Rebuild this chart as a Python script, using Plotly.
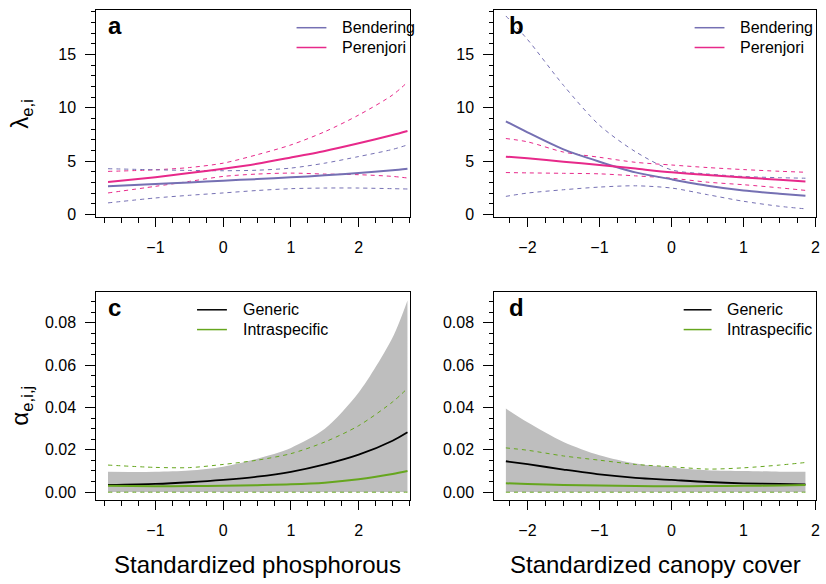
import plotly.graph_objects as go

# ---------------- data ----------------
# Panel a: lambda vs standardized phosphorous
xa = [-1.7, -1.0, -0.5, 0.0, 0.5, 1.0, 1.5, 2.0, 2.5, 2.72]
a_per_mean = [3.04, 3.50, 3.88, 4.29, 4.75, 5.34, 5.96, 6.68, 7.45, 7.83]
a_per_up = [4.04, 4.19, 4.40, 4.81, 5.60, 6.52, 7.76, 9.32, 11.2, 12.4]
a_per_lo = [2.02, 2.64, 3.10, 3.57, 3.79, 3.88, 3.79, 3.73, 3.57, 3.42]
a_ben_mean = [2.64, 2.86, 3.00, 3.17, 3.32, 3.48, 3.67, 3.88, 4.15, 4.29]
a_ben_up = [4.29, 4.19, 4.13, 4.10, 4.15, 4.35, 4.81, 5.43, 6.10, 6.52]
a_ben_lo = [1.09, 1.55, 1.80, 2.02, 2.25, 2.42, 2.48, 2.48, 2.42, 2.39]

# Panel b: lambda vs standardized canopy cover
xb = [-2.3, -2.0, -1.5, -1.0, -0.5, 0.0, 0.5, 1.0, 1.5, 1.86]
b_ben_mean = [8.73, 7.70, 6.10, 4.95, 3.95, 3.30, 2.70, 2.25, 1.95, 1.76]
b_ben_up = [18.6, 16.4, 12.1, 8.36, 5.88, 4.18, 3.80, 3.56, 3.45, 3.40]
b_ben_lo = [1.70, 2.01, 2.32, 2.57, 2.69, 2.48, 1.86, 1.24, 0.77, 0.53]
b_per_mean = [5.42, 5.26, 4.95, 4.64, 4.30, 3.96, 3.70, 3.47, 3.25, 3.10]
b_per_up = [7.12, 6.81, 5.85, 5.36, 4.89, 4.64, 4.40, 4.21, 4.05, 3.96]
b_per_lo = [3.93, 3.90, 3.86, 3.81, 3.62, 3.40, 3.03, 2.79, 2.50, 2.26]

# Panel c: alpha vs standardized phosphorous
xc = [-1.7, -1.0, -0.5, 0.0, 0.5, 1.0, 1.5, 2.0, 2.5, 2.72]
c_gen_up = [0.0097, 0.0096, 0.0102, 0.0120, 0.0158, 0.0209, 0.0299, 0.0470, 0.0730, 0.0905]
c_gen_lo = [0.0001, 0.0001, 0.0001, 0.0001, 0.0001, 0.0001, 0.0001, 0.0001, 0.0001, 0.0001]
c_gen_mean = [0.0034, 0.0039, 0.0047, 0.0058, 0.0073, 0.0096, 0.0131, 0.0177, 0.0243, 0.0283]
c_int_mean = [0.0030, 0.0028, 0.0029, 0.0030, 0.0033, 0.0037, 0.0045, 0.0061, 0.0086, 0.0100]
c_int_up = [0.0128, 0.0117, 0.0116, 0.0131, 0.0151, 0.0182, 0.0237, 0.0314, 0.0426, 0.0490]
c_int_lo = [0.0, 0.0, 0.0, 0.0, 0.0, 0.0, 0.0, 0.0, 0.0, 0.0]

# Panel d: alpha vs standardized canopy cover
xd = [-2.3, -2.0, -1.5, -1.0, -0.5, 0.0, 0.5, 1.0, 1.5, 1.86]
d_gen_up = [0.0395, 0.0330, 0.0237, 0.0174, 0.0135, 0.0117, 0.0104, 0.0100, 0.0097, 0.0097]
d_gen_lo = [0.0001, 0.0001, 0.0001, 0.0001, 0.0001, 0.0001, 0.0001, 0.0001, 0.0001, 0.0001]
d_gen_mean = [0.0146, 0.0132, 0.0107, 0.0084, 0.0068, 0.0058, 0.0048, 0.0042, 0.0039, 0.0037]
d_int_mean = [0.0042, 0.0039, 0.0034, 0.0031, 0.0029, 0.0028, 0.0029, 0.0030, 0.0032, 0.0034]
d_int_up = [0.0209, 0.0198, 0.0171, 0.0151, 0.0131, 0.0120, 0.0109, 0.0115, 0.0128, 0.0140]
d_int_lo = [0.0, 0.0, 0.0, 0.0, 0.0, 0.0, 0.0, 0.0, 0.0, 0.0]

# ---------------- styling ----------------
W, H = 826, 584
FONT = "Liberation Sans, Arial, sans-serif"
PURPLE = "#7570b3"
PINK = "#e7298a"
GREEN = "#66a61e"
BLACK = "#000000"
GRAY = "#bebebe"
DASH = "4px,4px"


def px(x):
    return x / W


def py(y):
    return 1 - y / H


fig = go.Figure()


def line(x, y, color, width, dash=None, ax=""):
    fig.add_trace(go.Scatter(
        x=x, y=y, mode="lines", xaxis="x" + ax, yaxis="y" + ax,
        line=dict(color=color, width=width, dash=dash or "solid", shape="spline", smoothing=0.8),
        hoverinfo="skip", showlegend=False))


def band(x, lo, up, ax):
    fig.add_trace(go.Scatter(x=x, y=lo, mode="lines", xaxis="x" + ax, yaxis="y" + ax,
                             line=dict(width=0, color=GRAY, shape="spline", smoothing=0.8),
                             hoverinfo="skip", showlegend=False))
    fig.add_trace(go.Scatter(x=x, y=up, mode="lines", xaxis="x" + ax, yaxis="y" + ax,
                             fill="tonexty", fillcolor=GRAY,
                             line=dict(width=0, color=GRAY, shape="spline", smoothing=0.8),
                             hoverinfo="skip", showlegend=False))


# panel a
line(xa, a_per_up, PINK, 1, DASH, "")
line(xa, a_per_lo, PINK, 1, DASH, "")
line(xa, a_ben_up, PURPLE, 1, DASH, "")
line(xa, a_ben_lo, PURPLE, 1, DASH, "")
line(xa, a_ben_mean, PURPLE, 2, None, "")
line(xa, a_per_mean, PINK, 2, None, "")

# panel b
line(xb, b_per_up, PINK, 1, DASH, "2")
line(xb, b_per_lo, PINK, 1, DASH, "2")
line(xb, b_ben_up, PURPLE, 1, DASH, "2")
line(xb, b_ben_lo, PURPLE, 1, DASH, "2")
line(xb, b_ben_mean, PURPLE, 2, None, "2")
line(xb, b_per_mean, PINK, 2, None, "2")

# panel c
band(xc, c_gen_lo, c_gen_up, "3")
line(xc, c_int_up, GREEN, 1, DASH, "3")
line(xc, c_int_lo, GREEN, 1, DASH, "3")
line(xc, c_gen_mean, BLACK, 1.8, None, "3")
line(xc, c_int_mean, GREEN, 2, None, "3")

# panel d
band(xd, d_gen_lo, d_gen_up, "4")
line(xd, d_int_up, GREEN, 1, DASH, "4")
line(xd, d_int_lo, GREEN, 1, DASH, "4")
line(xd, d_gen_mean, BLACK, 1.8, None, "4")
line(xd, d_int_mean, GREEN, 2, None, "4")

tickfont = dict(family=FONT, size=16, color="black")

xdom_l = [px(96.7), px(411.5)]
xdom_r = [px(496.7), px(820.0)]
ydom_t = [py(219), py(10)]
ydom_b = [py(505), py(295)]


def xaxis(dom, rng, anchor, vals):
    return dict(domain=dom, range=rng, anchor=anchor, showgrid=False, zeroline=False,
                showline=True, mirror=True, linecolor="black", linewidth=1,
                ticks="outside", ticklen=9, tickwidth=1, tickcolor="black",
                tickvals=vals, ticktext=[("\u2212" + str(abs(v))) if v < 0 else str(v) for v in vals],
                tickfont=tickfont, ticklabelstandoff=7,
                minor=dict(dtick=0.25, tick0=0, ticks="outside", ticklen=5, tickwidth=1,
                           tickcolor="black", showgrid=False))


def yaxis(dom, rng, anchor, vals, text, minor_dtick):
    return dict(domain=dom, range=rng, anchor=anchor, showgrid=False, zeroline=False,
                showline=True, mirror=True, linecolor="black", linewidth=1,
                ticks="outside", ticklen=10, tickwidth=1, tickcolor="black",
                tickvals=vals, ticktext=text, tickfont=tickfont, ticklabelstandoff=6,
                minor=dict(dtick=minor_dtick, tick0=0, ticks="outside", ticklen=4.5, tickwidth=1,
                           tickcolor="black", showgrid=False))


xa_ticks = [-1, 0, 1, 2]
xb_ticks = [-2, -1, 0, 1, 2]
lam_ticks = [0, 5, 10, 15]
lam_text = ["0", "5", "10", "15"]
alp_ticks = [0.0, 0.02, 0.04, 0.06, 0.08]
alp_text = ["0.00", "0.02", "0.04", "0.06", "0.08"]

xr_a = [-1.874, 2.75]
xr_b = [-2.461, 2.007]
yr_lam = [-0.21, 19.17]
yr_alp = [-0.0036, 0.0945]

fig.update_layout(
    width=W, height=H, margin=dict(l=0, r=0, t=0, b=0),
    paper_bgcolor="white", plot_bgcolor="white", showlegend=False,
    font=dict(family=FONT, color="black"),
    xaxis=xaxis(xdom_l, xr_a, "y", xa_ticks),
    yaxis=yaxis(ydom_t, yr_lam, "x", lam_ticks, lam_text, 1),
    xaxis2=xaxis(xdom_r, xr_b, "y2", xb_ticks),
    yaxis2=yaxis(ydom_t, yr_lam, "x2", lam_ticks, lam_text, 1),
    xaxis3=xaxis(xdom_l, xr_a, "y3", xa_ticks),
    yaxis3=yaxis(ydom_b, yr_alp, "x3", alp_ticks, alp_text, 0.005),
    xaxis4=xaxis(xdom_r, xr_b, "y4", xb_ticks),
    yaxis4=yaxis(ydom_b, yr_alp, "x4", alp_ticks, alp_text, 0.005),
)

ann = []
shapes = []


def text(x, y, s, size=16, anchor="left", bold=False, angle=0):
    ann.append(dict(x=px(x), y=py(y), xref="paper", yref="paper", text=("<b>%s</b>" % s) if bold else s,
                    showarrow=False, xanchor=anchor, yanchor="middle", textangle=angle,
                    font=dict(family=FONT, size=size, color="black")))


def legline(x0, x1, y, color):
    shapes.append(dict(type="line", xref="paper", yref="paper", x0=px(x0), x1=px(x1),
                       y0=py(y), y1=py(y), line=dict(color=color, width=1.5)))


# panel letters
text(107, 26, "a", 24, bold=True)
text(509, 26, "b", 24, bold=True)
text(107, 311, "c", 24, bold=True)
text(509, 311, "d", 24, bold=True)

# legends
legline(298, 328, 28, PURPLE); text(342, 28, "Bendering")
legline(298, 328, 48, PINK); text(342, 48, "Perenjori")
legline(698, 728, 28, PURPLE); text(742, 28, "Bendering")
legline(698, 728, 48, PINK); text(742, 48, "Perenjori")
legline(198, 228, 313, BLACK); text(242, 313, "Generic")
legline(198, 228, 333, GREEN); text(242, 333, "Intraspecific")
legline(687, 715, 313, BLACK); text(729, 313, "Generic")
legline(687, 715, 333, GREEN); text(729, 333, "Intraspecific")

# axis titles
text(259, 570, "Standardized phosphorous", 24, anchor="center")
text(659, 570, "Standardized canopy cover", 24, anchor="center")
text(22, 115, "\u03bb<sub>e,i</sub>", 24, anchor="center", angle=-90)
text(22, 410, "\u03b1<sub>e,i,j</sub>", 24, anchor="center", angle=-90)

fig.update_layout(annotations=ann, shapes=shapes)

fig.write_html("out.html", config={"displayModeBar": False},
               post_script="document.body.style.margin='0';document.body.style.overflow='hidden';")
